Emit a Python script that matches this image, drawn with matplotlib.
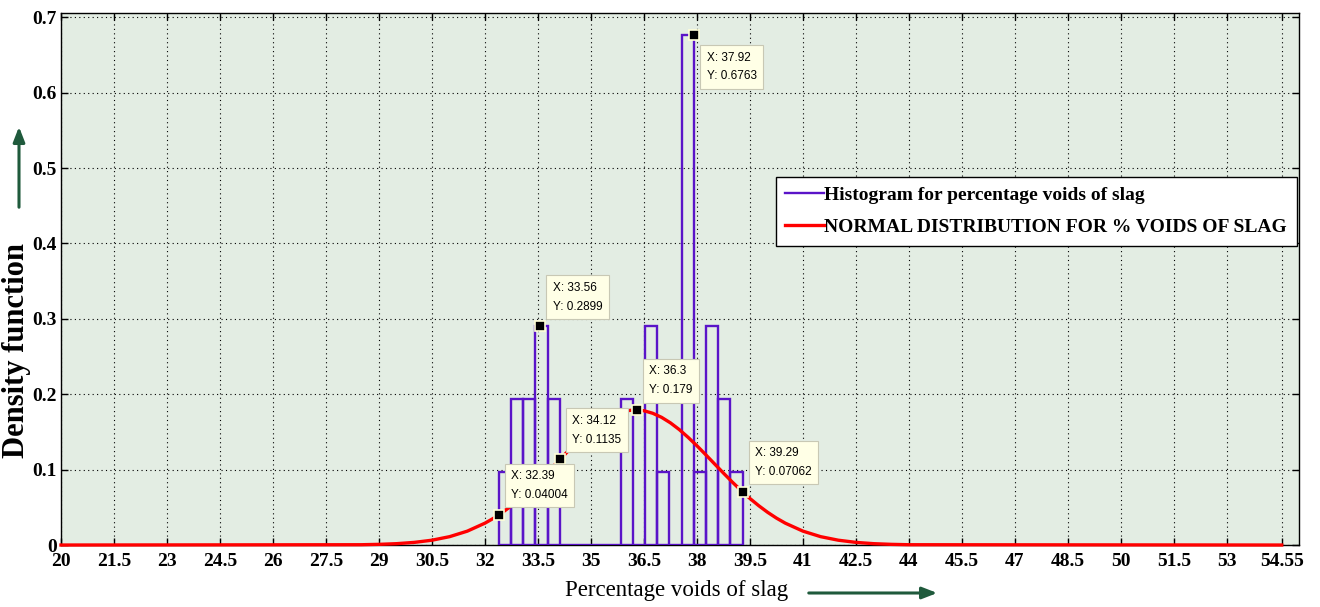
import numpy as np
import matplotlib
matplotlib.use('Agg')
import matplotlib.pyplot as plt
from matplotlib.lines import Line2D

# Histogram of % voids of slag (30 samples, 20 equal bins)
bin_edges = [32.39, 32.735, 33.08, 33.425, 33.77, 34.115, 34.46, 34.805, 35.15, 35.495,
             35.84, 36.185, 36.53, 36.875, 37.22, 37.565, 37.91, 38.255, 38.6, 38.945, 39.29]
bin_counts = [1, 2, 2, 3, 2, 0, 0, 0, 0, 0, 2, 0, 3, 1, 0, 7, 1, 3, 2, 1]
n_samples = 30

# Normal distribution curve
normal_x = [20, 28.5, 29, 29.5, 30, 30.5, 31, 31.5, 32, 32.25, 32.5, 32.75, 33, 33.25,
            33.5, 33.75, 34, 34.25, 34.5, 34.75, 35, 35.25, 35.5, 35.75, 36, 36.25, 36.5,
            36.75, 37, 37.25, 37.5, 37.75, 38, 38.25, 38.5, 38.75, 39, 39.25, 39.5, 39.75,
            40, 40.25, 40.5, 41, 41.5, 42, 42.5, 43, 43.5, 44, 54.55]
normal_y = [0, 0.0004, 0.0009, 0.0018, 0.0035, 0.0064, 0.0111, 0.0184, 0.0290, 0.0357,
            0.0434, 0.0521, 0.0617, 0.0723, 0.0835, 0.0954, 0.1075, 0.1197, 0.1316, 0.1428,
            0.1531, 0.1620, 0.1693, 0.1747, 0.1781, 0.1792, 0.1781, 0.1747, 0.1693, 0.1620,
            0.1531, 0.1428, 0.1316, 0.1197, 0.1075, 0.0954, 0.0835, 0.0723, 0.0617, 0.0521,
            0.0434, 0.0357, 0.0290, 0.0184, 0.0111, 0.0064, 0.0035, 0.0018, 0.0009, 0.0004, 0]

# Data tips
tip_x = [32.39, 33.56, 34.12, 36.3, 37.92, 39.29]
tip_y = [0.04004, 0.2899, 0.1135, 0.179, 0.6763, 0.07062]
tip_text = ['X: 32.39\nY: 0.04004', 'X: 33.56\nY: 0.2899', 'X: 34.12\nY: 0.1135',
            'X: 36.3\nY: 0.179', 'X: 37.92\nY: 0.6763', 'X: 39.29\nY: 0.07062']
tip_below = [False, False, False, False, True, False]

xticks = [20, 21.5, 23, 24.5, 26, 27.5, 29, 30.5, 32, 33.5, 35, 36.5, 38, 39.5, 41, 42.5,
          44, 45.5, 47, 48.5, 50, 51.5, 53, 54.55]
yticks = [0, 0.1, 0.2, 0.3, 0.4, 0.5, 0.6, 0.7]


def main():
    purple = '#5a14c8'
    red = '#ff0000'
    arrow_green = '#1f5a3c'
    serif = 'Liberation Serif'

    fig = plt.figure(figsize=(13.2, 6.07), dpi=100)
    ax = fig.add_axes([0.0462, 0.1021, 0.9379, 0.877])
    ax.set_facecolor('#e3ede3')

    # 1. histogram as outlined bars
    edges = np.array(bin_edges)
    widths = np.diff(edges)
    density = np.array(bin_counts) / (n_samples * widths)
    ax.bar(edges[:-1], density, width=widths, align='edge', fill=False,
           edgecolor=purple, linewidth=1.7, zorder=3)

    # 2. normal curve
    ax.plot(normal_x, normal_y, color=red, linewidth=2.4, zorder=4, clip_on=False)

    # 3. data tips
    for x, y, txt, below in zip(tip_x, tip_y, tip_text, tip_below):
        ax.plot(x, y, marker='s', markersize=7.5, color='black',
                markeredgecolor='#ffffd8', markeredgewidth=1.2, zorder=6)
        offset = (9, -12) if below else (9, 10)
        ax.annotate(txt, (x, y), xytext=offset, textcoords='offset points',
                    ha='left', va='top' if below else 'bottom',
                    fontsize=8.5, family='Liberation Sans', linespacing=1.75,
                    bbox=dict(boxstyle='square,pad=0.55', facecolor='#ffffe6',
                              edgecolor='#c8c8b4', linewidth=0.8),
                    zorder=7)

    # 4. axes, ticks, grid
    ax.set_xlim(20, 55.04)
    ax.set_ylim(0, 0.706)
    ax.set_xticks(xticks)
    ax.set_xticklabels(['%g' % t for t in xticks])
    ax.set_yticks(yticks)
    ax.set_yticklabels(['%g' % t for t in yticks])
    ax.tick_params(direction='in', length=5, width=1, top=True, right=True,
                   labelsize=14, colors='black')
    ax.tick_params(axis='x', pad=6)
    ax.tick_params(axis='y', pad=3)
    for lbl in ax.get_xticklabels() + ax.get_yticklabels():
        lbl.set_family(serif)
        lbl.set_fontweight('bold')
    ax.grid(True, color='black', linestyle=(0, (1, 3)), linewidth=0.8)
    ax.set_axisbelow(True)
    for sp in ax.spines.values():
        sp.set_linewidth(1)

    # 5. labels and arrows
    ax.set_xlabel('Percentage voids of slag', family=serif, fontsize=16.5, va='top')
    ax.xaxis.set_label_coords(0.497, -0.066)
    ax.set_ylabel('Density function', family=serif, fontsize=22, fontweight='bold', va='center')
    ax.yaxis.set_label_coords(-0.036, 0.366)

    ax.annotate('', xy=(940, 607 - 593), xytext=(806, 607 - 593), xycoords='figure pixels',
                arrowprops=dict(arrowstyle='-|>,head_length=0.9,head_width=0.35',
                                color=arrow_green, linewidth=2.2))
    ax.annotate('', xy=(19, 607 - 124), xytext=(19, 607 - 210), xycoords='figure pixels',
                arrowprops=dict(arrowstyle='-|>,head_length=0.9,head_width=0.35',
                                color=arrow_green, linewidth=2.2))

    # 6. legend
    handles = [Line2D([], [], color=purple, linewidth=1.7),
               Line2D([], [], color=red, linewidth=2.4)]
    labels = ['Histogram for percentage voids of slag', 'NORMAL DISTRIBUTION FOR % VOIDS OF SLAG']
    leg = ax.legend(handles, labels, loc='upper right', bbox_to_anchor=(0.998, 0.692),
                    borderaxespad=0, fancybox=False, framealpha=1, edgecolor='black',
                    prop={'family': serif, 'weight': 'bold', 'size': 14},
                    handlelength=2.0, handletextpad=0.0, labelspacing=0.75,
                    borderpad=0.5)
    leg.get_frame().set_linewidth(1)
    leg.set_zorder(5)

    plt.savefig('out.png', dpi=100)


if __name__ == '__main__':
    main()
